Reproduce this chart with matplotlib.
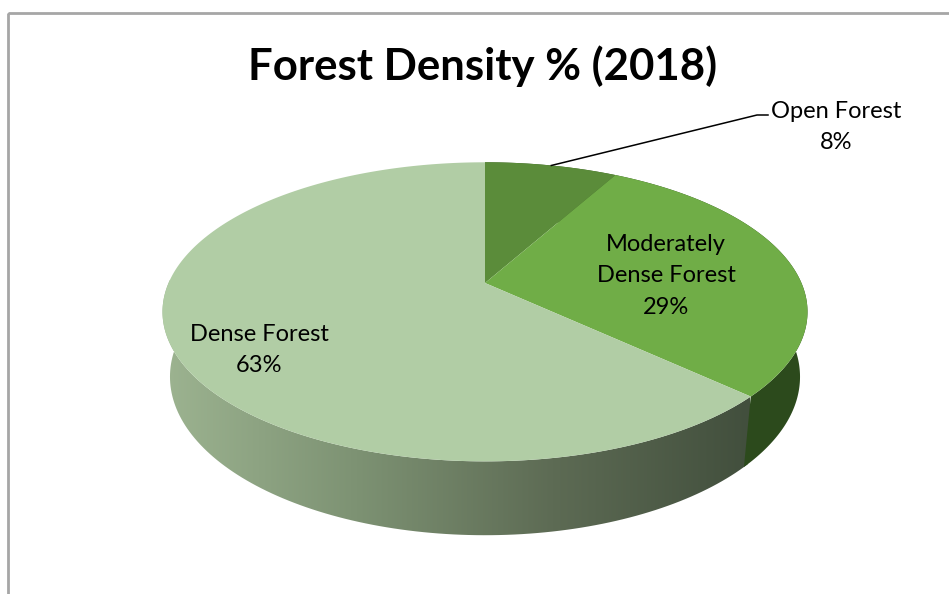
import numpy as np
import matplotlib.pyplot as plt
from matplotlib.patches import Polygon, Rectangle
from matplotlib.colors import LinearSegmentedColormap

plt.rcParams['font.family'] = ['Lato', 'DejaVu Sans']

title = 'Forest Density % (2018)'
categories = ['Open Forest', 'Moderately\nDense Forest', 'Dense Forest']
shares = [8, 29, 63]
top_colors = ['#5b8c3a', '#70ad47', '#b1cda5']
side_colors = ['#3a5a25', '#2c4a1c', None]  # dense side gets a gradient

# perspective camera for the 3-D pie
cx, cy = 485, 283
S = 1462.0
D = 4.62
tilt = np.arcsin(0.455)
thick = 0.232


def project(t, w=0.0):
    u, v = np.cos(t), np.sin(t)
    X = u
    Y = v * np.sin(tilt) + w * np.cos(tilt)
    Z = D + v * np.cos(tilt) - w * np.sin(tilt)
    return cx + S * X / Z, cy - S * Y / Z


def wall_poly(t0, t1):
    t = np.linspace(t0, t1, 200)
    xt, yt = project(t, 0)
    xb, yb = project(t[::-1], -thick)
    return np.column_stack([np.r_[xt, xb], np.r_[yt, yb]])


fig = plt.figure(figsize=(9.49, 5.94), dpi=100)
ax = fig.add_axes([0, 0, 1, 1])
ax.set_xlim(0, 949)
ax.set_ylim(594, 0)
ax.axis('off')

# chart frame
ax.add_patch(Rectangle((8, 13), 960, 600, fill=False, ec='#a6a6a6', lw=2))

# slice angles: start at 12 o'clock, go clockwise
fr = np.array(shares, float) / sum(shares)
bounds = np.pi / 2 - 2 * np.pi * np.concatenate([[0], np.cumsum(fr)])

# dense wall with a left-to-right shading, slightly overlapping its neighbour
wall = Polygon(wall_poly(bounds[2] + 0.02, bounds[3]), closed=True,
               fc='none', ec='none')
ax.add_patch(wall)
cmap = LinearSegmentedColormap.from_list(
    'wall', ['#9db491', '#7d9273', '#5d6b54', '#424f3d'])
grad = np.linspace(0, 1, 256)[None, :]
im = ax.imshow(grad, cmap=cmap, aspect='auto',
               extent=[160, 750, 560, 280], zorder=1)
im.set_clip_path(wall)

# remaining walls
for i in range(2):
    ax.add_patch(Polygon(wall_poly(bounds[i], bounds[i + 1]), closed=True,
                         fc=side_colors[i], ec='none', zorder=1.5))

# top faces
for i in range(len(shares)):
    t = np.linspace(bounds[i], bounds[i + 1], 200)
    xt, yt = project(t, 0)
    pts = np.column_stack([np.r_[cx, xt], np.r_[cy, yt]])
    ax.add_patch(Polygon(pts, closed=True, fc=top_colors[i], ec='none', zorder=2))

ax.text(483, 66, title, ha='center', va='center', fontsize=31.5,
        fontweight='bold', zorder=5)

# data labels
pct = [f'{s}%' for s in shares]
lab = dict(ha='center', va='center', fontsize=17, linespacing=1.62, zorder=5)
ax.text(836, 127, categories[0] + '\n' + pct[0], **lab)
ax.text(666, 276, categories[1] + '\n' + pct[1], **lab)
ax.text(259, 350, categories[2] + '\n' + pct[2], **lab)

# leader line for the small slice
mid = (bounds[0] + bounds[1]) / 2
lx, ly = project(mid, 0)
ax.plot([lx, 757, 768], [ly, 115, 115], color='black', lw=1.1, zorder=4)

fig.savefig('out.png', dpi=100)
